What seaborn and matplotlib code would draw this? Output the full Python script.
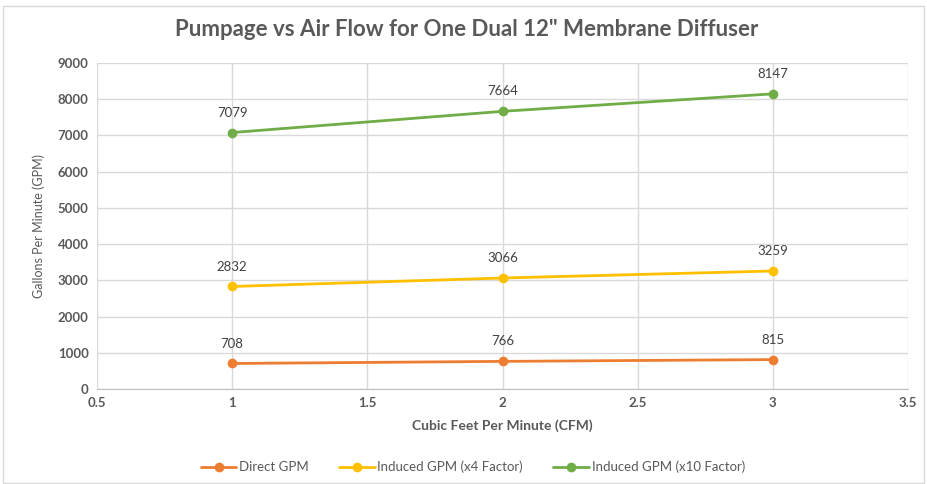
import matplotlib
matplotlib.use("Agg")
import matplotlib.pyplot as plt
import seaborn as sns
import pandas as pd

cfm = [1, 2, 3]
direct = [708, 766, 815]
induced4 = [2832, 3066, 3259]
induced10 = [7079, 7664, 8147]
series_names = ["Direct GPM", "Induced GPM (x4 Factor)", "Induced GPM (x10 Factor)"]
colors = ["#ED7D31", "#FFC000", "#70AD47"]
xticks = [0.5, 1, 1.5, 2, 2.5, 3, 3.5]
yticks = [0, 1000, 2000, 3000, 4000, 5000, 6000, 7000, 8000, 9000]

sns.set_style("white")
plt.rcParams['font.family'] = ['Lato', 'DejaVu Sans']

rows = []
for name, vals in zip(series_names, [direct, induced4, induced10]):
    for x, v in zip(cfm, vals):
        rows.append({"CFM": x, "GPM": v, "Series": name})
df = pd.DataFrame(rows)

fig = plt.figure(figsize=(9.27, 4.84), dpi=100)
ax = fig.add_axes([0.1046, 0.196, 0.875, 0.674])
fig.patches.append(plt.Rectangle((0.003, 0.003), 0.994, 0.985, transform=fig.transFigure,
                                 fill=False, edgecolor="#D9D9D9", linewidth=1))

sns.lineplot(data=df, x="CFM", y="GPM", hue="Series", palette=colors, marker="o",
             markersize=7, markeredgewidth=0, linewidth=2, ax=ax, legend=True)

for vals in [direct, induced4, induced10]:
    for x, v in zip(cfm, vals):
        ax.annotate(str(v), (x, v), textcoords="offset points", xytext=(0, 10),
                    ha="center", va="bottom", fontsize=9.5, color="#404040")

ax.set_xlim(0.5, 3.5)
ax.set_ylim(0, 9000)
ax.set_xticks(xticks)
ax.set_xticklabels([f"{t:g}" for t in xticks])
ax.set_yticks(yticks)
ax.grid(True, color="#D9D9D9", linewidth=1)
ax.set_axisbelow(True)
for s in ["top", "right", "left"]:
    ax.spines[s].set_visible(False)
ax.spines["bottom"].set_color("#BFBFBF")
ax.tick_params(axis="both", length=0, labelsize=9.5, labelcolor="#595959", pad=6)
for lbl in ax.get_xticklabels() + ax.get_yticklabels():
    lbl.set_fontweight("bold")

ax.set_xlabel("Cubic Feet Per Minute (CFM)", fontsize=10, fontweight="bold", color="#595959", labelpad=7)
ax.set_ylabel("Gallons Per Minute (GPM)", fontsize=9, color="#595959", labelpad=9)

fig.suptitle("Pumpage vs Air Flow for One Dual 12\" Membrane Diffuser", x=0.503, y=0.96,
             fontsize=16, fontweight="bold", color="#595959")

fig.legend(*ax.get_legend_handles_labels(), loc="center", bbox_to_anchor=(0.51, 0.035),
           ncol=3, frameon=False, fontsize=9.5, labelcolor="#595959", handlelength=2.7,
           columnspacing=2.3, handletextpad=0.2)
ax.get_legend().remove()

fig.savefig("out.png", dpi=100)
